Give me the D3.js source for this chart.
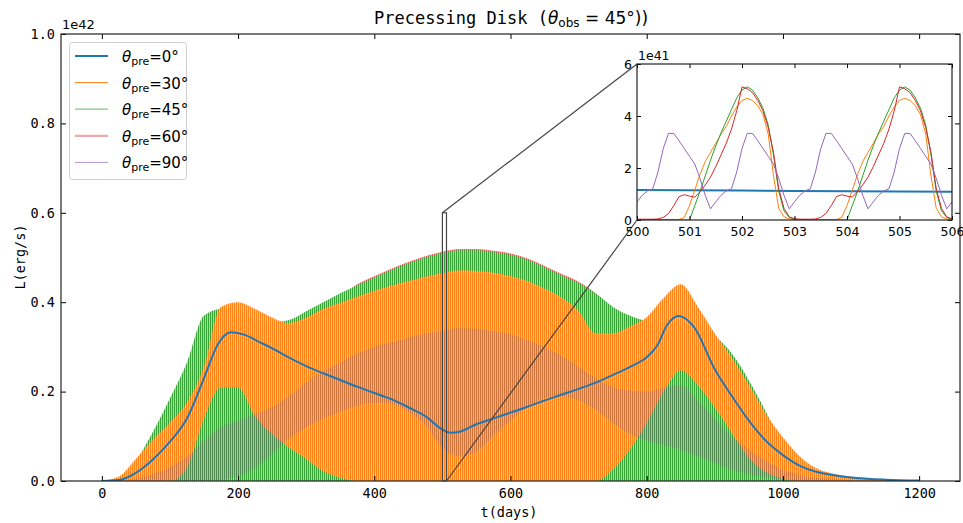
<!DOCTYPE html>
<html>
<head>
<meta charset="utf-8">
<script src="https://cdn.jsdelivr.net/npm/d3@7/dist/d3.min.js"></script>
<style>
  body { margin: 0; background: #fff; }
  svg text { fill: #000; }
</style>
</head>
<body>
<div id="chart"></div>
<script>
// envelope sample days for the precessing curves (main panel)
let envDays = [0, 25, 50, 75, 100, 125, 150, 175, 200, 225, 250, 275, 300, 325, 350, 375, 400, 425, 450, 475,
  500, 525, 550, 575, 600, 625, 650, 675, 700, 725, 750, 775, 800, 825, 850, 875, 900, 925, 950, 975,
  1000, 1025, 1050, 1075, 1100, 1125, 1150, 1175, 1200];

// upper / lower envelopes, units of 1e42 erg/s
let greenHi = [0, 0.005, 0.045, 0.11, 0.185, 0.265, 0.37, 0.385, 0.37, 0.36, 0.355, 0.36, 0.38, 0.4, 0.42, 0.438, 0.455, 0.472, 0.487, 0.5,
  0.51, 0.516, 0.516, 0.512, 0.506, 0.495, 0.478, 0.46, 0.443, 0.42, 0.39, 0.37, 0.358, 0.355, 0.355, 0.35, 0.325, 0.285, 0.225, 0.155,
  0.08, 0.04, 0.022, 0.012, 0.007, 0.004, 0.002, 0.001, 0];
let redHi = [0, 0.004, 0.035, 0.09, 0.17, 0.25, 0.35, 0.37, 0.36, 0.35, 0.345, 0.35, 0.37, 0.39, 0.412, 0.44, 0.458, 0.475, 0.49, 0.503,
  0.513, 0.519, 0.519, 0.515, 0.509, 0.498, 0.481, 0.463, 0.446, 0.42, 0.385, 0.36, 0.35, 0.345, 0.345, 0.34, 0.315, 0.275, 0.215, 0.145,
  0.075, 0.037, 0.02, 0.011, 0.006, 0.003, 0.002, 0.001, 0];
let orangeHi = [0, 0.01, 0.05, 0.092, 0.13, 0.175, 0.255, 0.39, 0.4, 0.385, 0.366, 0.353, 0.365, 0.385, 0.398, 0.412, 0.425, 0.437, 0.447, 0.457,
  0.465, 0.471, 0.47, 0.466, 0.458, 0.447, 0.43, 0.41, 0.38, 0.33, 0.33, 0.345, 0.367, 0.41, 0.44, 0.39, 0.33, 0.275, 0.215, 0.15,
  0.098, 0.055, 0.028, 0.016, 0.01, 0.006, 0.003, 0.001, 0];
let orangeLo = [0, 0, 0, 0, 0, 0.03, 0.14, 0.21, 0.21, 0.145, 0.105, 0.075, 0.05, 0.022, 0.008, 0, 0, 0, 0, 0,
  0, 0, 0, 0, 0, 0, 0, 0, 0, 0, 0.025, 0.07, 0.13, 0.2, 0.248, 0.215, 0.165, 0.108, 0.052, 0.02,
  0.005, 0, 0, 0, 0, 0, 0, 0, 0];
let purpleHi = [0, 0, 0.005, 0.015, 0.03, 0.055, 0.09, 0.12, 0.135, 0.15, 0.165, 0.19, 0.22, 0.245, 0.265, 0.285, 0.3, 0.31, 0.32, 0.33,
  0.335, 0.342, 0.34, 0.335, 0.328, 0.315, 0.3, 0.28, 0.255, 0.23, 0.21, 0.203, 0.2, 0.21, 0.215, 0.18, 0.14, 0.1, 0.07, 0.045,
  0.025, 0.013, 0.007, 0.004, 0.002, 0.001, 0, 0, 0];
let purpleLo = [0, 0, 0, 0, 0, 0, 0, 0.003, 0.01, 0.03, 0.06, 0.095, 0.12, 0.14, 0.155, 0.168, 0.175, 0.172, 0.155, 0.125,
  0.075, 0.055, 0.065, 0.1, 0.135, 0.165, 0.185, 0.19, 0.18, 0.16, 0.13, 0.105, 0.09, 0.08, 0.07, 0.055, 0.04, 0.025, 0.015, 0.008,
  0.003, 0, 0, 0, 0, 0, 0, 0, 0];

// theta_pre = 0 : smooth curve
let blueDays = [0, 25, 50, 75, 100, 125, 150, 170, 190, 210, 230, 250, 275, 300, 325, 350, 375, 400, 425, 450, 475, 500, 512, 525,
  550, 575, 600, 625, 650, 675, 700, 725, 750, 775, 800, 815, 830, 847, 870, 900, 925, 950, 975, 1000, 1025, 1050, 1075, 1100, 1150, 1200];
let blueLum = [0, 0.002, 0.018, 0.048, 0.088, 0.14, 0.23, 0.305, 0.333, 0.327, 0.312, 0.297, 0.276, 0.257, 0.241, 0.226, 0.211, 0.197, 0.183, 0.165, 0.145, 0.115, 0.108, 0.11,
  0.127, 0.14, 0.153, 0.166, 0.18, 0.193, 0.206, 0.22, 0.237, 0.255, 0.277, 0.302, 0.349, 0.369, 0.343, 0.25, 0.19, 0.135, 0.09, 0.058, 0.034, 0.02, 0.013, 0.008, 0.003, 0.001];

// inset, t = 500.0 ... 506.0 every 0.1 day, units of 1e41 erg/s
let insetDays = d3.range(61).map((i) => +(500 + i / 10).toFixed(1));
let insetOrange = [0.02, 0.02, 0.02, 0.02, 0.02, 0.02, 0.02, 0.02, 0.02, 0.1,
  0.55, 1.15, 1.75, 2.25, 2.6, 2.95, 3.3, 3.6, 4.0, 4.35,
  4.6, 4.68, 4.6, 4.4, 4.05, 3.3, 1.7, 0.45, 0.12, 0.04,
  0.02, 0.02, 0.02, 0.02, 0.02, 0.02, 0.02, 0.02, 0.02, 0.1,
  0.55, 1.15, 1.75, 2.25, 2.6, 2.95, 3.3, 3.6, 4.0, 4.35,
  4.6, 4.68, 4.6, 4.4, 4.05, 3.3, 1.7, 0.45, 0.12, 0.04,
  0.02];
let insetGreen = [0, 0, 0, 0, 0, 0, 0, 0, 0, 0,
  0, 0.55, 1.1, 1.7, 2.3, 2.85, 3.35, 3.8, 4.25, 4.7,
  5.0, 5.12, 5.0, 4.7, 4.3, 3.65, 2.5, 1.1, 0.35, 0.1,
  0.03, 0, 0, 0, 0, 0, 0, 0, 0, 0,
  0, 0.55, 1.1, 1.7, 2.3, 2.85, 3.35, 3.8, 4.25, 4.7,
  5.0, 5.12, 5.0, 4.7, 4.3, 3.65, 2.5, 1.1, 0.35, 0.1,
  0.03];
let insetRed = [0.03, 0.03, 0.03, 0.03, 0.04, 0.1, 0.25, 0.55, 0.9, 0.97,
  0.92, 0.88, 1.08, 1.35, 1.65, 2.05, 2.5, 2.95, 3.5, 4.2,
  5.12, 5.05, 4.9, 4.6, 4.2, 3.55, 2.6, 1.2, 0.45, 0.12,
  0.05, 0.03, 0.03, 0.03, 0.04, 0.1, 0.25, 0.55, 0.9, 0.97,
  0.92, 0.88, 1.08, 1.35, 1.65, 2.05, 2.5, 2.95, 3.5, 4.2,
  5.12, 5.05, 4.9, 4.6, 4.2, 3.55, 2.6, 1.2, 0.45, 0.12,
  0.05];
let insetPurple = [0.7, 0.95, 1.12, 1.2, 1.85, 2.75, 3.33, 3.33, 3.05, 2.75, 2.45, 2.15, 1.6, 0.95, 0.43,
  0.7, 0.95, 1.12, 1.2, 1.85, 2.75, 3.33, 3.33, 3.05, 2.75, 2.45, 2.15, 1.6, 0.95, 0.43,
  0.7, 0.95, 1.12, 1.2, 1.85, 2.75, 3.33, 3.33, 3.05, 2.75, 2.45, 2.15, 1.6, 0.95, 0.43,
  0.7, 0.95, 1.12, 1.2, 1.85, 2.75, 3.33, 3.33, 3.05, 2.75, 2.45, 2.15, 1.6, 0.95, 0.43,
  0.7];
let insetBlueDays = [500, 501, 502, 503, 504, 505, 506];
let insetBlue = [1.15, 1.14, 1.13, 1.12, 1.11, 1.1, 1.09];

let legendLabels = ['0', '30', '45', '60', '90'];
let xTicks = [0, 200, 400, 600, 800, 1000, 1200];
let yTicks = [0, 0.2, 0.4, 0.6, 0.8, 1.0];
let insetXTicks = [500, 501, 502, 503, 504, 505, 506];
let insetYTicks = [0, 2, 4, 6];

let colors = ['#1f77b4', '#ff7f0e', '#2ca02c', '#d62728', '#9467bd'];
let mono = "'DejaVu Sans Mono', 'Liberation Mono', monospace";
let sans = "'DejaVu Sans', sans-serif";

let width = 963, height = 523;
let plot = { left: 61, right: 960, top: 34, bottom: 481 };
let ins = { left: 637, right: 952, top: 64, bottom: 220 };

let x = d3.scaleLinear().domain([-60, 1260]).range([plot.left, plot.right]);
let y = d3.scaleLinear().domain([0, 1.0]).range([plot.bottom, plot.top]);
let ix = d3.scaleLinear().domain([500, 506]).range([ins.left, ins.right]);
let iy = d3.scaleLinear().domain([0, 6]).range([ins.bottom, ins.top]);

let svg = d3.select('#chart').append('svg')
  .attr('width', width).attr('height', height)
  .style('font-family', mono);

let defs = svg.append('defs');
defs.append('clipPath').attr('id', 'clipMain').append('rect')
  .attr('x', plot.left).attr('y', plot.top)
  .attr('width', plot.right - plot.left).attr('height', plot.bottom - plot.top);
defs.append('clipPath').attr('id', 'clipInset').append('rect')
  .attr('x', ins.left).attr('y', ins.top)
  .attr('width', ins.right - ins.left).attr('height', ins.bottom - ins.top);

// vertical stripe patterns that stand in for the fast precession wiggles
function stripes(id, base, baseOp, line, lineOp) {
  let p = defs.append('pattern').attr('id', id)
    .attr('patternUnits', 'userSpaceOnUse').attr('width', 2).attr('height', 4);
  p.append('rect').attr('width', 2).attr('height', 4).attr('fill', base).attr('opacity', baseOp);
  p.append('rect').attr('width', 1).attr('height', 4).attr('fill', line).attr('opacity', lineOp);
}
stripes('pRed', '#f2a3a4', 1, '#d62728', 0.6);
stripes('pGreen', '#a9d9a5', 1, '#2ca02c', 0.9);
stripes('pOrange', '#ffba80', 0.92, '#ff7f0e', 0.92);
stripes('pPurple', '#6b4a3a', 0.08, '#7b5a8a', 0.3);

let main = svg.append('g').attr('clip-path', 'url(#clipMain)');

function band(lo, hi, fill) {
  let area = d3.area()
    .x((d, i) => x(envDays[i]))
    .y0((d, i) => y(lo ? lo[i] : 0))
    .y1((d, i) => y(hi[i]))
    .curve(d3.curveMonotoneX);
  main.append('path').datum(hi).attr('d', area).attr('fill', fill);
}
band(null, redHi, 'url(#pRed)');
band(null, greenHi, 'url(#pGreen)');
band(orangeLo, orangeHi, 'url(#pOrange)');
band(purpleLo, purpleHi, 'url(#pPurple)');

let blueLine = d3.line()
  .x((d, i) => x(blueDays[i]))
  .y((d) => y(d))
  .curve(d3.curveMonotoneX);
main.append('path').datum(blueLum).attr('d', blueLine)
  .attr('fill', 'none').attr('stroke', colors[0]).attr('stroke-width', 2);

// axes, ticks pointing inwards on all four sides
function styleAxis(g) {
  g.select('.domain').remove();
  g.selectAll('.tick line').attr('stroke', '#000').attr('stroke-width', 1);
  g.selectAll('.tick text').style('font-family', mono).style('font-size', '13.5px');
}
svg.append('g').attr('transform', `translate(0,${plot.bottom})`)
  .call(d3.axisBottom(x).tickValues(xTicks).tickSize(-5).tickPadding(7).tickFormat(d3.format('d')))
  .call(styleAxis);
svg.append('g').attr('transform', `translate(0,${plot.top})`)
  .call(d3.axisTop(x).tickValues(xTicks).tickSize(-5).tickFormat(''))
  .call(styleAxis);
svg.append('g').attr('transform', `translate(${plot.left},0)`)
  .call(d3.axisLeft(y).tickValues(yTicks).tickSize(-5).tickPadding(6).tickFormat(d3.format('.1f')))
  .call(styleAxis);
svg.append('g').attr('transform', `translate(${plot.right},0)`)
  .call(d3.axisRight(y).tickValues(yTicks).tickSize(-5).tickFormat(''))
  .call(styleAxis);
svg.append('rect')
  .attr('x', plot.left).attr('y', plot.top)
  .attr('width', plot.right - plot.left).attr('height', plot.bottom - plot.top)
  .attr('fill', 'none').attr('stroke', '#222').attr('stroke-width', 1.2);

svg.append('text').attr('x', plot.left + 1).attr('y', 29)
  .style('font-family', sans).style('font-size', '13px').text('1e42');

// labels
svg.append('text').attr('x', 509).attr('y', 517).attr('text-anchor', 'middle')
  .style('font-size', '13.5px').text('t(days)');
svg.append('text').attr('transform', 'translate(25,257) rotate(-90)').attr('text-anchor', 'middle')
  .style('font-size', '13.5px').text('L(erg/s)');

let title = svg.append('text').attr('x', 511).attr('y', 24).attr('text-anchor', 'middle')
  .style('font-size', '17px');
title.append('tspan').text('Precessing Disk (');
title.append('tspan').style('font-family', sans).style('font-style', 'italic').text('θ');
title.append('tspan').style('font-family', sans).style('font-size', '12px').attr('dy', 3).text('obs');
title.append('tspan').style('font-family', sans).attr('dy', -3).text(' = 45°))');

// zoom indicator and connectors
svg.append('rect')
  .attr('x', x(500)).attr('y', y(0.6))
  .attr('width', x(506) - x(500)).attr('height', y(0) - y(0.6))
  .attr('fill', 'none').attr('stroke', '#444').attr('stroke-width', 1.2);
svg.append('line').attr('x1', x(500)).attr('y1', y(0.6)).attr('x2', ins.left).attr('y2', ins.top)
  .attr('stroke', '#444').attr('stroke-width', 1.2);
svg.append('line').attr('x1', x(506)).attr('y1', y(0)).attr('x2', ins.left).attr('y2', ins.bottom)
  .attr('stroke', '#444').attr('stroke-width', 1.2);

// inset
svg.append('rect')
  .attr('x', ins.left).attr('y', ins.top)
  .attr('width', ins.right - ins.left).attr('height', ins.bottom - ins.top)
  .attr('fill', '#fff');
let inset = svg.append('g').attr('clip-path', 'url(#clipInset)');
let insetSeries = [
  { days: insetBlueDays, vals: insetBlue, color: colors[0], w: 2 },
  { days: insetDays, vals: insetOrange, color: colors[1], w: 1 },
  { days: insetDays, vals: insetGreen, color: colors[2], w: 1 },
  { days: insetDays, vals: insetRed, color: colors[3], w: 1 },
  { days: insetDays, vals: insetPurple, color: colors[4], w: 1 },
];
insetSeries.forEach((s) => {
  let line = d3.line().x((d, i) => ix(s.days[i])).y((d) => iy(d));
  inset.append('path').datum(s.vals).attr('d', line)
    .attr('fill', 'none').attr('stroke', s.color).attr('stroke-width', s.w)
    .attr('stroke-linejoin', 'round');
});
function styleInset(g) {
  g.select('.domain').remove();
  g.selectAll('.tick line').attr('stroke', '#000');
  g.selectAll('.tick text').style('font-family', sans).style('font-size', '12.5px');
}
svg.append('g').attr('transform', `translate(0,${ins.bottom})`)
  .call(d3.axisBottom(ix).tickValues(insetXTicks).tickSize(-4).tickPadding(7).tickFormat(d3.format('d')))
  .call(styleInset);
svg.append('g').attr('transform', `translate(0,${ins.top})`)
  .call(d3.axisTop(ix).tickValues(insetXTicks).tickSize(-4).tickFormat(''))
  .call(styleInset);
svg.append('g').attr('transform', `translate(${ins.left},0)`)
  .call(d3.axisLeft(iy).tickValues(insetYTicks).tickSize(-4).tickPadding(5).tickFormat(d3.format('d')))
  .call(styleInset);
svg.append('g').attr('transform', `translate(${ins.right},0)`)
  .call(d3.axisRight(iy).tickValues(insetYTicks).tickSize(-4).tickFormat(''))
  .call(styleInset);
svg.append('rect')
  .attr('x', ins.left).attr('y', ins.top)
  .attr('width', ins.right - ins.left).attr('height', ins.bottom - ins.top)
  .attr('fill', 'none').attr('stroke', '#222').attr('stroke-width', 1.2);
svg.append('text').attr('x', ins.left + 1).attr('y', 60)
  .style('font-family', sans).style('font-size', '12.5px').text('1e41');

// legend
let legend = svg.append('g');
legend.append('rect').attr('x', 69.5).attr('y', 42.5).attr('width', 117).attr('height', 137)
  .attr('rx', 3).attr('fill', '#fff').attr('fill-opacity', 0.8)
  .attr('stroke', '#d0d0d0').attr('stroke-width', 1);
let legendStyles = [
  { w: 2, op: 1 }, { w: 1, op: 1 }, { w: 1.2, op: 0.6 }, { w: 2.2, op: 0.4 }, { w: 1, op: 0.7 },
];
legendLabels.forEach((lab, i) => {
  let ly = 56 + i * 26.6;
  legend.append('line').attr('x1', 75).attr('x2', 108).attr('y1', ly).attr('y2', ly)
    .attr('stroke', colors[i]).attr('stroke-width', legendStyles[i].w)
    .attr('stroke-opacity', legendStyles[i].op);
  let t = legend.append('text').attr('x', 122).attr('y', ly + 6)
    .style('font-family', sans).style('font-size', '15px');
  t.append('tspan').style('font-style', 'italic').text('θ');
  t.append('tspan').style('font-size', '11px').attr('dy', 3).text('pre');
  t.append('tspan').attr('dy', -3).text(`=${lab}°`);
});
</script>
</body>
</html>
